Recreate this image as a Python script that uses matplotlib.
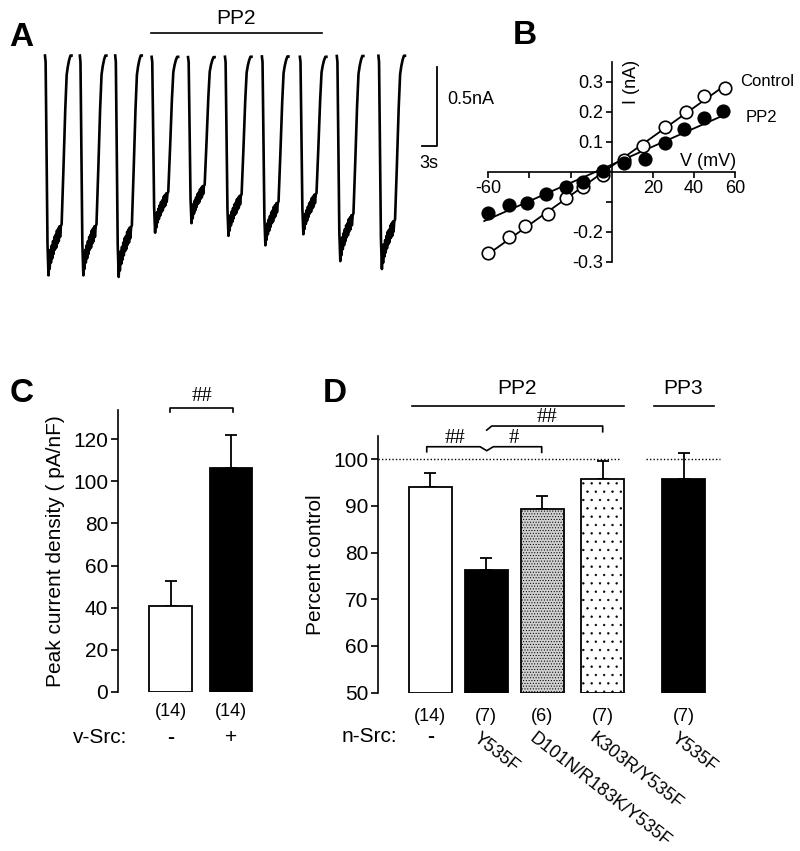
import numpy as np
import matplotlib.pyplot as plt

plt.rcParams['font.family'] = ['Liberation Sans', 'DejaVu Sans']
plt.rcParams['hatch.linewidth'] = 0.45
plt.rcParams['axes.linewidth'] = 1.2

W, H = 800, 851

# ---- panel A: current trace (sweep onsets, peak amplitude, sweep shape)
sweep_start = [0, 6.7, 13.5, 20.5, 27.5, 34.6, 41.7, 49.0, 56.1, 64.1]   # s
sweep_peak = [1.35, 1.35, 1.36, 1.08, 1.02, 1.10, 1.16, 1.09, 1.26, 1.31]  # nA
shape_t = [0.00, 0.12, 0.25, 0.48, 0.67, 0.80, 0.90, 1.05, 1.15, 1.30, 1.40,
           1.55, 1.65, 1.80, 1.90, 2.05, 2.15, 2.30, 2.40, 2.55, 2.65, 2.80,
           2.90, 3.05, 3.20, 3.55, 3.90, 4.17, 4.40, 4.65, 4.90, 5.10]
shape_f = [-0.03, 0.00, 0.30, 0.85, 1.00, 0.91, 0.97, 0.88, 0.94, 0.86, 0.92,
           0.84, 0.90, 0.82, 0.88, 0.81, 0.87, 0.79, 0.85, 0.78, 0.84, 0.77,
           0.82, 0.77, 0.76, 0.50, 0.22, 0.06, 0.02, -0.01, -0.03, -0.03]

# ---- panel B: I-V
iv_v_ctrl = [-60, -50, -42, -31, -22, -14, -4, 6, 15, 26, 36, 45, 55]
iv_i_ctrl = [-0.272, -0.217, -0.181, -0.142, -0.089, -0.050, -0.011,
             0.039, 0.086, 0.150, 0.200, 0.253, 0.280]
iv_v_pp2 = [-60, -50, -41, -32, -22, -14, -4, 6, 16, 26, 35, 45, 54]
iv_i_pp2 = [-0.139, -0.111, -0.105, -0.075, -0.050, -0.033, 0.002,
            0.028, 0.042, 0.097, 0.142, 0.178, 0.202]

# ---- panel C
c_groups = ['-', '+']
c_n = ['(14)', '(14)']
c_mean = [40.8, 106.5]
c_sem = [11.7, 15.5]

# ---- panel D
d_groups = ['-', 'Y535F', 'D101N/R183K/Y535F', 'K303R/Y535F', 'Y535F']
d_n = ['(14)', '(7)', '(6)', '(7)', '(7)']
d_mean = [94.1, 76.2, 89.4, 95.8, 95.8]
d_sem = [3.0, 2.7, 2.8, 3.8, 5.6]


def rect(l, t, r, b):
    return [l / W, 1 - b / H, (r - l) / W, (b - t) / H]


def ftxt(x, y, s, **kw):
    fig.text(x / W, 1 - y / H, s, **kw)


fig = plt.figure(figsize=(W / 100, H / 100), dpi=100)

# panel letters
for lab, x, y in [('A', 21, 37), ('B', 525, 35), ('C', 22, 393), ('D', 335, 393)]:
    ftxt(x, y, lab, fontsize=24, fontweight='bold', ha='center', va='center')

# ================= A
axA = fig.add_axes(rect(40, 55, 445, 285))
axA.set_xlim(-0.96, 76.9)
axA.set_ylim(-1.411, 0.044)
axA.axis('off')
for t0, pk in zip(sweep_start, sweep_peak):
    axA.plot(np.array(shape_t) + t0, -pk * np.array(shape_f), color='black',
             lw=1.9, solid_joinstyle='round', clip_on=False)
# PP2 application bar
axA.plot([20.4, 53.3], [0.184, 0.184], color='black', lw=1.2, clip_on=False)
axA.text(36.7, 0.278, 'PP2', fontsize=15, ha='center', va='center')
# scale bar
axA.plot([72.4, 75.4, 75.4], [-0.53, -0.53, -0.03], color='black', lw=1.3,
         clip_on=False)
axA.text(77.3, -0.24, '0.5nA', fontsize=13, ha='left', va='center')
axA.text(73.7, -0.64, '3s', fontsize=13, ha='center', va='center')

# ================= B
axB = fig.add_axes(rect(467.8, 57.7, 755.6, 267.7))
axB.set_xlim(-70, 70)
axB.set_ylim(-0.32, 0.38)
axB.patch.set_visible(False)
for s in ['top', 'right']:
    axB.spines[s].set_visible(False)
axB.spines['left'].set_position(('data', 0))
axB.spines['bottom'].set_position(('data', 0))
axB.spines['left'].set_bounds(-0.3, 0.367)
axB.spines['bottom'].set_bounds(-60, 60)
axB.set_xticks([-60, -40, -20, 20, 40, 60])
axB.set_xticklabels(['-60', '', '', '20', '40', '60'])
axB.set_yticks([-0.3, -0.2, -0.1, 0.1, 0.2, 0.3])
axB.set_yticklabels(['-0.3', '-0.2', '', '0.1', '0.2', '0.3'])
axB.tick_params(direction='out', length=4, width=1.2, labelsize=13, pad=2)

for vv, ii, v0, v1, mfc, z in [(iv_v_ctrl, iv_i_ctrl, -60, 55, 'white', 3),
                               (iv_v_pp2, iv_i_pp2, -62, 55, 'black', 4)]:
    k, b0 = np.polyfit(vv, ii, 1)
    axB.plot([v0, v1], [k * v0 + b0, k * v1 + b0], color='black', lw=1.3,
             zorder=2, clip_on=False)
    axB.plot(vv, ii, 'o', ms=9, mfc=mfc, mec='black', mew=1.2, zorder=z,
             clip_on=False)
axB.text(62.5, 0.3, 'Control', fontsize=12, ha='left', va='center')
axB.text(65, 0.18, 'PP2', fontsize=12, ha='left', va='center')
axB.text(47, 0.035, 'V (mV)', fontsize=13, ha='center', va='center')
axB.text(9.5, 0.3, 'I (nA)', fontsize=13, ha='center', va='center', rotation=90)

# ================= C
axC = fig.add_axes(rect(118, 409.9, 260, 691.7))
axC.set_xlim(-0.868, 1.479)
axC.set_ylim(0, 134)
axC.patch.set_visible(False)
for s in ['top', 'right', 'bottom']:
    axC.spines[s].set_visible(False)
axC.bar([0, 1], c_mean, width=0.71, color=['white', 'black'],
        edgecolor='black', lw=1.3, zorder=3)
axC.errorbar([0, 1], c_mean, yerr=[[0, 0], c_sem], fmt='none',
             ecolor='black', elinewidth=1.3, capsize=4, capthick=1.3, zorder=2)
axC.set_yticks(range(0, 121, 20))
axC.set_xticks([])
axC.tick_params(axis='y', direction='out', length=5, width=1.2, labelsize=15,
                pad=2)
axC.set_ylabel('Peak current density ( pA/nF)', fontsize=15, labelpad=6)
axC.plot([-0.008, -0.008, 1.038, 1.038], [133.1, 135.0, 135.0, 133.1],
         color='black', lw=1.2, clip_on=False)
axC.text(0.52, 140.6, '##', fontsize=15, family='Liberation Serif',
         ha='center', va='center')
for i in range(2):
    axC.text(i, -9.5, c_n[i], fontsize=13, ha='center', va='center')
    axC.text(i, -22, c_groups[i], fontsize=15,
             fontweight='bold' if c_groups[i] == '-' else 'normal',
             ha='center', va='center')
axC.text(-1.17, -22, 'v-Src:', fontsize=15, ha='center', va='center')

# ================= D
d_pos = [0, 1, 2, 3.075, 4.527]
axD = fig.add_axes(rect(378.3, 435.7, 725, 692.7))
axD.set_xlim(-0.929, 5.262)
axD.set_ylim(50, 105)
axD.patch.set_visible(False)
for s in ['top', 'right', 'bottom']:
    axD.spines[s].set_visible(False)
faces = ['white', 'black', '#d0d0d0', 'white', 'black']
hatches = [None, None, '......', '..', None]
for x, m, fc, h in zip(d_pos, d_mean, faces, hatches):
    axD.bar(x, m - 50, bottom=50, width=0.768, color=fc, edgecolor='black',
            lw=1.3, hatch=h, zorder=3)
axD.errorbar(d_pos, d_mean, yerr=[[0] * 5, d_sem], fmt='none', ecolor='black',
             elinewidth=1.3, capsize=4, capthick=1.3, zorder=2)
axD.set_yticks(range(50, 101, 10))
axD.set_xticks([])
axD.tick_params(axis='y', direction='out', length=5, width=1.2, labelsize=15,
                pad=2)
axD.set_ylabel('Percent control', fontsize=15, labelpad=6)
axD.plot([-0.929, 3.39], [100, 100], color='black', lw=1.0, ls=(0, (1, 1.5)),
         zorder=1)
axD.plot([3.86, 5.17], [100, 100], color='black', lw=1.0, ls=(0, (1, 1.5)),
         zorder=1, clip_on=False)
# drug bars
axD.plot([-0.33, 3.45], [111.4, 111.4], color='black', lw=1.2, clip_on=False)
axD.plot([4.0, 5.07], [111.4, 111.4], color='black', lw=1.2, clip_on=False)
axD.text(1.55, 115.2, 'PP2', fontsize=15, ha='center', va='center')
axD.text(4.52, 115.2, 'PP3', fontsize=15, ha='center', va='center')
# significance brackets
axD.plot([-0.064, -0.064, 0.888, 1.007, 1.125, 1.989, 1.989],
         [101.57, 102.64, 102.64, 101.79, 102.64, 102.64, 101.44],
         color='black', lw=1.2, clip_on=False)
axD.plot([1.007, 1.096, 3.078, 3.078], [106.2, 107.07, 107.07, 105.85],
         color='black', lw=1.2, clip_on=False)
axD.text(0.44, 104.4, '##', fontsize=15, family='Liberation Serif',
         ha='center', va='center')
axD.text(1.49, 104.4, '#', fontsize=15, family='Liberation Serif',
         ha='center', va='center')
axD.text(2.08, 108.85, '##', fontsize=15, family='Liberation Serif',
         ha='center', va='center')
for x, n, g in zip(d_pos, d_n, d_groups):
    axD.text(x, 45.0, n, fontsize=13, ha='center', va='center')
    if g == '-':
        axD.text(x, 40.6, g, fontsize=15, fontweight='bold',
                 ha='center', va='center')
    else:
        axD.text(x - 0.1, 42.0, g, fontsize=13, ha='left', va='top',
                 rotation=-38, rotation_mode='anchor')
axD.text(-1.096, 40.6, 'n-Src:', fontsize=15, ha='center', va='center')

fig.savefig('out.png', dpi=100)
